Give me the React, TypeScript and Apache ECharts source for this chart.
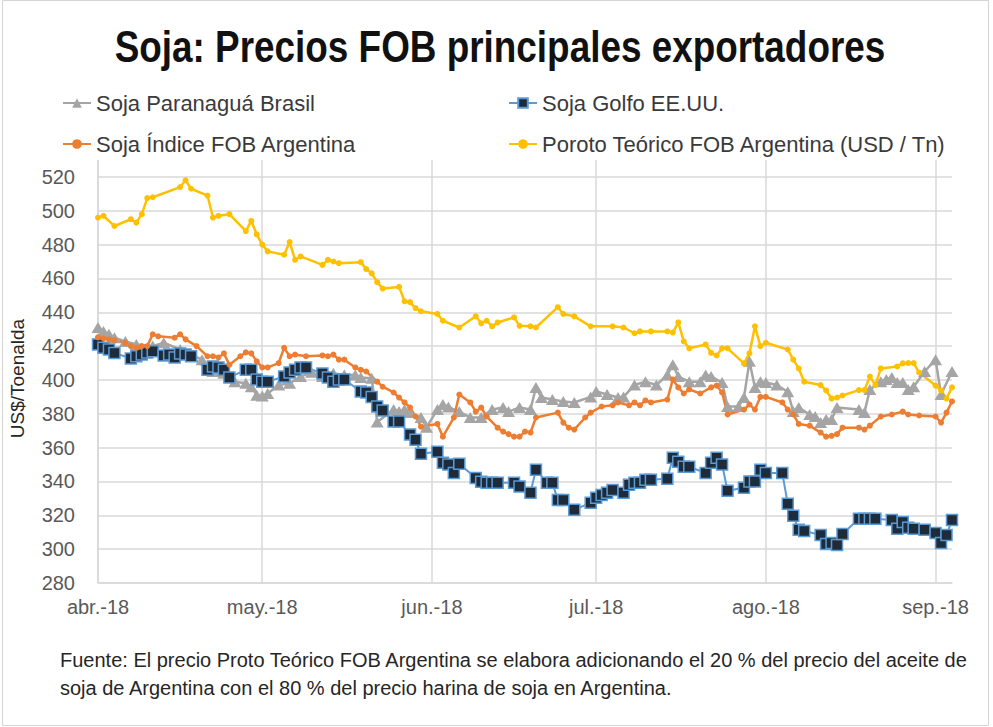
import React, { useEffect, useRef } from 'react';
import * as echarts from 'echarts';

const FONT = "'Liberation Sans', Arial, sans-serif";

const titleText = 'Soja: Precios FOB principales exportadores';
const yAxisName = 'US$/Toenalda';
const noteLines = [
  'Fuente: El precio Proto Teórico FOB Argentina se elabora adicionando el 20 % del precio del aceite de',
  'soja de Argentina con el 80 % del precio harina de soja en Argentina.',
];
const monthLabels = ['abr.-18', 'may.-18', 'jun.-18', 'jul.-18', 'ago.-18', 'sep.-18'];
const seriesNames = [
  'Soja Paranaguá Brasil',
  'Soja Golfo EE.UU.',
  'Soja Índice FOB Argentina',
  'Poroto Teórico FOB Argentina (USD / Tn)',
];

// Soja Paranaguá Brasil
const paranaguaDates = [
  '04-01', '04-02', '04-03', '04-04', '04-06', '04-08', '04-11', '04-13', '04-16', '04-18', '04-20', '04-22', '04-24', '04-26', '04-28', '04-29', '04-30',
  '05-01', '05-02', '05-04', '05-06', '05-08', '05-10', '05-12', '05-14', '05-16', '05-18', '05-19', '05-21', '05-22', '05-25', '05-26', '05-27', '05-28', '05-30', '05-31',
  '06-02', '06-03', '06-04', '06-06', '06-08', '06-10', '06-12', '06-14', '06-15', '06-17', '06-19', '06-20', '06-21', '06-23', '06-25', '06-27', '06-30',
  '07-01', '07-03', '07-05', '07-06', '07-08', '07-10', '07-12', '07-14', '07-15', '07-16', '07-18', '07-20', '07-21', '07-22', '07-24', '07-25', '07-27', '07-28', '07-29', '07-30', '07-31',
  '08-01', '08-03', '08-05', '08-06', '08-07', '08-09', '08-10', '08-11', '08-12', '08-13', '08-14', '08-18', '08-19', '08-20', '08-22', '08-23', '08-24', '08-25', '08-26', '08-27', '08-28', '08-30',
  '09-01', '09-02', '09-04',
];
const paranaguaValues = [
  431, 428.7, 427, 425, 422.8, 421, 420, 422, 418, 415, 412, 405, 404, 399, 398, 396, 391,
  390.5, 392, 397, 398, 402, 404.5, 402, 404, 403, 403, 401.5, 401, 375.2, 382.5, 381.3, 382.5, 380.7, 377.8, 372,
  382.5, 385.5, 384, 381.3, 377.8, 377.8, 382.5, 383.7, 381.3, 383.7, 382.5, 395.6, 389.6, 388.4, 387.3, 386.7, 390,
  393.2, 391.4, 389.6, 390, 397, 399, 397, 403, 409, 402, 399, 399, 403, 402, 398.5, 384.3, 384.3, 389.6, 411, 395.6, 399,
  398.5, 397, 393, 381.3, 383.7, 379.6, 378.4, 374.8, 376.6, 376.6, 383.7, 382.5, 380.7, 394.4, 399, 400.3, 401.5, 398.5, 398.5, 394.4, 396, 405,
  412, 391.4, 405,
];

// Soja Golfo EE.UU.
const golfoDates = [
  '04-01', '04-02', '04-03', '04-04', '04-07', '04-08', '04-09', '04-10', '04-11', '04-13', '04-14', '04-15', '04-16', '04-17', '04-18', '04-21', '04-22', '04-23', '04-24', '04-25', '04-28', '04-29', '04-30',
  '05-01', '05-02', '05-05', '05-06', '05-07', '05-08', '05-09', '05-12', '05-13', '05-14', '05-15', '05-16', '05-19', '05-20', '05-21', '05-22', '05-23', '05-25', '05-26', '05-28', '05-29', '05-30',
  '06-02', '06-03', '06-04', '06-05', '06-06', '06-09', '06-10', '06-11', '06-12', '06-13', '06-16', '06-17', '06-19', '06-20', '06-22', '06-23', '06-24', '06-25', '06-27', '06-30',
  '07-01', '07-02', '07-03', '07-04', '07-06', '07-07', '07-08', '07-09', '07-10', '07-11', '07-14', '07-15', '07-16', '07-17', '07-18', '07-21', '07-22', '07-23', '07-24', '07-25', '07-28', '07-29', '07-30', '07-31',
  '08-01', '08-04', '08-05', '08-06', '08-07', '08-08', '08-11', '08-12', '08-13', '08-14', '08-15', '08-18', '08-19', '08-20', '08-21', '08-24', '08-25', '08-26', '08-27', '08-28', '08-30',
  '09-01', '09-02', '09-03', '09-04',
];
const golfoValues = [
  421, 419, 418, 416, 412.7, 414, 415, 416.3, 417, 414.5, 415, 413.3, 415.7, 415, 414, 406, 408, 407.4, 406, 401.5, 406, 406, 400.3,
  399, 399, 402, 404.4, 406, 407.4, 407.4, 403.8, 401.5, 399, 400.3, 400.3, 393.2, 392.6, 390, 384.3, 382, 375.4, 375.4, 367.7, 364.7, 356.4,
  357.6, 351, 350, 345, 350.5, 342, 339.9, 339.3, 339.3, 339.3, 339.3, 337, 333.3, 347, 339.3, 339.3, 329, 329, 323.3, 327.4,
  330.4, 332, 333.3, 335, 333.3, 338, 339.3, 339.3, 341, 341, 341.6, 354, 351.7, 348.7, 348.7, 345, 351, 354, 350, 334.5, 336.3, 340, 340, 347,
  345, 345, 326.8, 319.7, 311.4, 310.8, 308.4, 303, 303.7, 302.5, 309, 318, 318, 318, 318, 317.3, 312, 316, 312.6, 312, 311.4,
  309.6, 303.7, 308.4, 317.3,
];

// Soja Índice FOB Argentina
const indiceDates = [
  '04-01', '04-02', '04-03', '04-04', '04-06', '04-07', '04-08', '04-09', '04-10', '04-11', '04-12', '04-15', '04-16', '04-17', '04-19', '04-21', '04-22', '04-23', '04-24', '04-25', '04-27', '04-28', '04-29', '04-30',
  '05-01', '05-02', '05-04', '05-05', '05-06', '05-07', '05-09', '05-12', '05-13', '05-14', '05-15', '05-16', '05-18', '05-19', '05-20', '05-22', '05-23', '05-25', '05-26', '05-27', '05-28', '05-29', '05-30',
  '06-02', '06-03', '06-05', '06-06', '06-08', '06-09', '06-10', '06-11', '06-13', '06-14', '06-15', '06-16', '06-17', '06-18', '06-19', '06-20', '06-24', '06-25', '06-26', '06-27', '06-29', '06-30',
  '07-02', '07-04', '07-05', '07-07', '07-08', '07-09', '07-10', '07-11', '07-14', '07-15', '07-16', '07-17', '07-18', '07-20', '07-22', '07-23', '07-24', '07-25', '07-28', '07-29', '07-30', '07-31',
  '08-01', '08-04', '08-05', '08-06', '08-07', '08-09', '08-11', '08-12', '08-13', '08-14', '08-15', '08-18', '08-19', '08-20', '08-22', '08-24', '08-26', '08-27', '08-29',
  '09-01', '09-02', '09-03', '09-04',
];
const indiceValues = [
  425.2, 424.6, 424, 423.4, 422, 420, 419, 420, 420, 427, 425.8, 425, 427, 424, 420, 414, 414, 413.3, 415.7, 409, 414, 416.3, 415.7, 411,
  407.4, 407.4, 410, 419, 414, 415, 414, 414.5, 414, 415, 412, 412, 407.4, 406, 405, 399, 396, 392.6, 389.6, 386.7, 383.7, 378.4, 372.4,
  374, 366.5, 377.8, 391.4, 386.7, 381.3, 383.7, 378.4, 371.8, 369.5, 368, 366.5, 366.5, 369.5, 368.9, 377.8, 380.7, 374.8, 371.8, 370.7, 377.8, 380.7,
  384.3, 385, 386.7, 385, 386.7, 385, 387.9, 386.7, 388.4, 400.3, 395.6, 392, 394.4, 392, 395.6, 396.7, 392.6, 379.6, 382.5, 385.5, 382.5, 390,
  390, 386.7, 382.5, 379.6, 374, 373, 368.9, 366.5, 367, 368, 371.8, 371.8, 370.7, 373, 378.4, 379.6, 381.3, 379.6, 379,
  378.4, 374.8, 380.7, 387.3,
];

// Poroto Teórico FOB Argentina (USD / Tn)
const porotoDates = [
  '04-01', '04-02', '04-04', '04-07', '04-08', '04-09', '04-10', '04-11', '04-16', '04-17', '04-18', '04-21', '04-22', '04-23', '04-25', '04-28', '04-29', '04-30',
  '05-01', '05-02', '05-05', '05-06', '05-07', '05-08', '05-12', '05-13', '05-14', '05-15', '05-19', '05-20', '05-21', '05-22', '05-23', '05-26', '05-27', '05-28', '05-29', '05-30',
  '06-02', '06-03', '06-06', '06-09', '06-10', '06-11', '06-12', '06-13', '06-16', '06-17', '06-19', '06-20', '06-24', '06-25', '06-27', '06-30',
  '07-04', '07-06', '07-08', '07-09', '07-11', '07-14', '07-15', '07-16', '07-17', '07-18', '07-21', '07-22', '07-23', '07-24', '07-25', '07-28', '07-29', '07-30', '07-31',
  '08-01', '08-05', '08-06', '08-07', '08-08', '08-11', '08-12', '08-13', '08-14', '08-15', '08-18', '08-19', '08-20', '08-21', '08-22', '08-25', '08-26', '08-27', '08-28', '08-29',
  '09-01', '09-02', '09-03', '09-04',
];
const porotoValues = [
  496, 497, 491, 495, 493, 498, 507.5, 508, 514, 518, 513, 509, 496, 497, 498, 488, 494, 486,
  480, 476, 474, 481.5, 471, 473, 468, 471, 470, 469, 469.6, 465.5, 463, 457.8, 454, 455, 446.5, 446, 442.5, 440.6,
  439, 435, 431, 437.6, 433.5, 435, 431.7, 434, 437, 432, 431.7, 431, 443, 439, 437.6, 431.7,
  431.7, 431, 427.6, 428.7, 428.7, 428.7, 428, 434, 422.8, 418.7, 421, 416, 414.5, 418.7, 418.7, 409.8, 415.7, 431.7, 420,
  422, 418, 412, 406.8, 399, 397, 393.8, 389, 389.6, 390.8, 394, 394, 402, 397, 406.8, 408, 409.8, 410, 410, 404.4,
  396.7, 393.8, 389, 395.6,
];

const toPairs = (dates: string[], values: number[]) =>
  dates.map((d, i) => ['2018-' + d, values[i]]);

const GRID = '#d9d9d9';
const LABEL = '#595959';

export default function App() {
  const ref = useRef<HTMLDivElement>(null);

  useEffect(() => {
    if (!ref.current) return;
    const chart = echarts.init(ref.current, undefined, { renderer: 'svg' });

    const legendBase = {
      orient: 'horizontal',
      itemWidth: 28,
      itemHeight: 12,
      padding: 0,
      selectedMode: false,
      textStyle: { fontSize: 22, color: '#3a3a3a', fontFamily: FONT },
    };

    const option: any = {
      animation: false,
      backgroundColor: '#ffffff',
      grid: { left: 96, right: 41, top: 160, bottom: 144, containLabel: false },
      xAxis: {
        type: 'time',
        min: new Date(2018, 3, 1).getTime(),
        max: new Date(2018, 8, 4).getTime(),
        splitNumber: 5,
        minInterval: 28 * 86400000,
        axisLine: { show: true, lineStyle: { color: GRID, width: 1.5 } },
        axisTick: { show: false },
        axisLabel: {
          color: LABEL,
          fontSize: 20,
          fontFamily: FONT,
          margin: 14,
          hideOverlap: false,
          formatter: (val: number) => {
            const d = new Date(val);
            if (d.getDate() !== 1) return '';
            const idx = d.getMonth() - 3;
            return monthLabels[idx] || '';
          },
        },
        splitLine: { show: true, showMaxLine: false, lineStyle: { color: GRID, width: 1.5 } },
      },
      yAxis: {
        type: 'value',
        min: 280,
        max: 530,
        interval: 20,
        name: yAxisName,
        nameLocation: 'middle',
        nameGap: 71,
        nameRotate: 90,
        nameTextStyle: { fontSize: 19, color: '#262626', fontFamily: FONT, padding: [0, 14, 0, 0] },
        axisLine: { show: false },
        axisTick: { show: false },
        axisLabel: { color: LABEL, fontSize: 20, fontFamily: FONT, margin: 23, showMaxLabel: false },
        splitLine: { show: true, showMaxLine: false, lineStyle: { color: GRID, width: 1.5 } },
      },
      legend: [
        { ...legendBase, left: 62, top: 92, data: [seriesNames[0]] },
        { ...legendBase, left: 508, top: 92, data: [seriesNames[1]] },
        { ...legendBase, left: 62, top: 133, data: [seriesNames[2]] },
        { ...legendBase, left: 508, top: 133, data: [seriesNames[3]] },
      ],
      series: [
        {
          name: seriesNames[0],
          type: 'line',
          data: toPairs(paranaguaDates, paranaguaValues),
          symbol: 'triangle',
          symbolSize: [13, 11],
          showAllSymbol: true,
          lineStyle: { color: '#a5a5a5', width: 2.5 },
          itemStyle: { color: '#a5a5a5' },
        },
        {
          name: seriesNames[1],
          type: 'line',
          data: toPairs(golfoDates, golfoValues),
          symbol: 'rect',
          symbolSize: 11,
          showAllSymbol: true,
          lineStyle: { color: '#5b9bd5', width: 2 },
          itemStyle: { color: '#1d2b3b', borderColor: '#5b9bd5', borderWidth: 1.5 },
        },
        {
          name: seriesNames[2],
          type: 'line',
          data: toPairs(indiceDates, indiceValues),
          symbol: 'circle',
          symbolSize: 6,
          showAllSymbol: true,
          lineStyle: { color: '#ed7d31', width: 2.5 },
          itemStyle: { color: '#ed7d31' },
        },
        {
          name: seriesNames[3],
          type: 'line',
          data: toPairs(porotoDates, porotoValues),
          symbol: 'circle',
          symbolSize: 6,
          showAllSymbol: true,
          lineStyle: { color: '#ffc000', width: 2.5 },
          itemStyle: { color: '#ffc000' },
        },
      ],
      graphic: [
        {
          type: 'rect',
          silent: true,
          shape: { x: 2.5, y: 0.5, width: 986, height: 725 },
          style: { fill: 'none', stroke: '#d4d4d4', lineWidth: 1 },
        },
        {
          type: 'text',
          x: 500,
          y: 47,
          scaleX: 0.82,
          style: {
            text: titleText,
            font: `bold 45px ${FONT}`,
            fill: '#111111',
            textAlign: 'center',
            textVerticalAlign: 'middle',
          },
        },
        {
          type: 'text',
          x: 60,
          y: 660,
          style: {
            text: noteLines[0],
            font: `20px ${FONT}`,
            fill: '#262626',
            textAlign: 'left',
            textVerticalAlign: 'middle',
          },
        },
        {
          type: 'text',
          x: 60,
          y: 688,
          style: {
            text: noteLines[1],
            font: `20px ${FONT}`,
            fill: '#262626',
            textAlign: 'left',
            textVerticalAlign: 'middle',
          },
        },
      ],
    };

    chart.setOption(option);
    return () => chart.dispose();
  }, []);

  return (
    <div
      ref={ref}
      style={{ position: 'absolute', left: 0, top: 0, width: 993, height: 727, background: '#fff' }}
    />
  );
}
